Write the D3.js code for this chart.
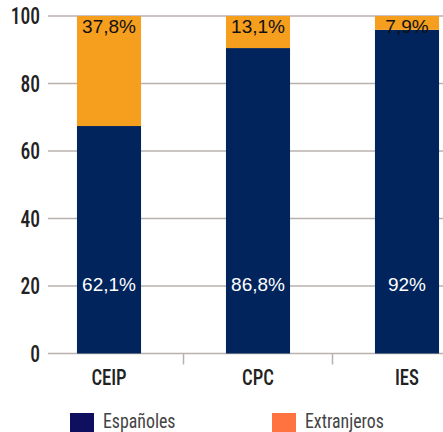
<!DOCTYPE html>
<html>
<head>
<meta charset="utf-8">
<script src="https://cdn.jsdelivr.net/npm/d3@7"></script>
<style>
  body { margin: 0; background: #fff; }
  svg { display: block; }
</style>
</head>
<body>
<svg width="443" height="432"></svg>
<script>
// categories and series
var categories = ["CEIP", "CPC", "IES"];
var espanoles = [67.4, 90.5, 95.9];      // drawn height of the navy part
var extranjeros = [32.6, 9.5, 4.1];      // orange part up to 100
var espLabels = ["62,1%", "86,8%", "92%"];
var extLabels = ["37,8%", "13,1%", "7,9%"];
var yTicks = [0, 20, 40, 60, 80, 100];
var seriesNames = ["Españoles", "Extranjeros"];

var svg = d3.select("svg"),
    narrow = "'Roboto Condensed', 'Liberation Sans Narrow', Roboto, sans-serif",
    regular = "'Liberation Sans', Arial, sans-serif";

var y = d3.scaleLinear().domain([0, 100]).range([353.5, 16]);
var x = d3.scaleBand().domain(categories).range([34.5, 481.5]).paddingInner(0.57).paddingOuter(0.285);

// grid
svg.append("g")
    .selectAll("line")
    .data(yTicks)
    .enter().append("line")
    .attr("x1", 48).attr("x2", 443)
    .attr("y1", function (d) { return y(d); })
    .attr("y2", function (d) { return y(d); })
    .attr("stroke", "#bab1af")
    .attr("stroke-width", 1.5);

// y labels, squeezed horizontally to imitate the condensed face
svg.append("g")
    .selectAll("text")
    .data(yTicks)
    .enter().append("text")
    .attr("transform", function (d) { return "translate(40," + (y(d) + 8) + ") scale(0.85,1)"; })
    .attr("text-anchor", "end")
    .attr("font-family", narrow)
    .attr("font-weight", 500)
    .attr("font-size", 23)
    .attr("fill", "#222")
    .text(function (d) { return d; });

// bottom tick marks between bands
var step = x.step();
svg.append("g")
    .selectAll("line")
    .data(categories.slice(1))
    .enter().append("line")
    .attr("x1", function (d) { return x(d) - (step - x.bandwidth()) / 2; })
    .attr("x2", function (d) { return x(d) - (step - x.bandwidth()) / 2; })
    .attr("y1", y(0)).attr("y2", y(0) + 11)
    .attr("stroke", "#bab1af")
    .attr("stroke-width", 1.5);

var idx = d3.range(categories.length);

// navy bars
svg.append("g")
    .selectAll("rect")
    .data(idx)
    .enter().append("rect")
    .attr("x", function (i) { return x(categories[i]); })
    .attr("width", x.bandwidth())
    .attr("y", function (i) { return y(espanoles[i]); })
    .attr("height", function (i) { return y(0) - y(espanoles[i]); })
    .attr("fill", "#00245b");

// orange bars
svg.append("g")
    .selectAll("rect")
    .data(idx)
    .enter().append("rect")
    .attr("x", function (i) { return x(categories[i]); })
    .attr("width", x.bandwidth())
    .attr("y", function (i) { return y(espanoles[i] + extranjeros[i]); })
    .attr("height", function (i) { return y(espanoles[i]) - y(espanoles[i] + extranjeros[i]); })
    .attr("fill", "#f69e1e");

// value labels
svg.append("g")
    .selectAll("text")
    .data(idx)
    .enter().append("text")
    .attr("x", function (i) { return x(categories[i]) + x.bandwidth() / 2; })
    .attr("y", y(20) + 5)
    .attr("text-anchor", "middle")
    .attr("font-family", regular)
    .attr("font-size", 19)
    .attr("fill", "#fff")
    .text(function (i) { return espLabels[i]; });

svg.append("g")
    .selectAll("text")
    .data(idx)
    .enter().append("text")
    .attr("x", function (i) { return x(categories[i]) + x.bandwidth() / 2; })
    .attr("y", y(100) + 17)
    .attr("text-anchor", "middle")
    .attr("font-family", regular)
    .attr("font-size", 19)
    .attr("fill", "#111")
    .text(function (i) { return extLabels[i]; });

// category labels
svg.append("g")
    .selectAll("text")
    .data(categories)
    .enter().append("text")
    .attr("transform", function (d) { return "translate(" + (x(d) + x.bandwidth() / 2) + ",385) scale(0.85,1)"; })
    .attr("text-anchor", "middle")
    .attr("font-family", narrow)
    .attr("font-weight", 500)
    .attr("font-size", 22)
    .attr("fill", "#222")
    .text(function (d) { return d; });

// legend
var legendX = [70, 272], legendColors = ["#0f0f60", "#ff7340"];
var legend = svg.append("g")
    .selectAll("g")
    .data(seriesNames)
    .enter().append("g")
    .attr("transform", function (d, i) { return "translate(" + legendX[i] + ",413)"; });
legend.append("rect")
    .attr("width", 24).attr("height", 19)
    .attr("fill", function (d, i) { return legendColors[i]; });
legend.append("text")
    .attr("transform", "translate(33,15) scale(0.85,1)")
    .attr("font-family", narrow)
    .attr("font-size", 21)
    .attr("fill", "#444")
    .text(function (d) { return d; });
</script>
</body>
</html>
